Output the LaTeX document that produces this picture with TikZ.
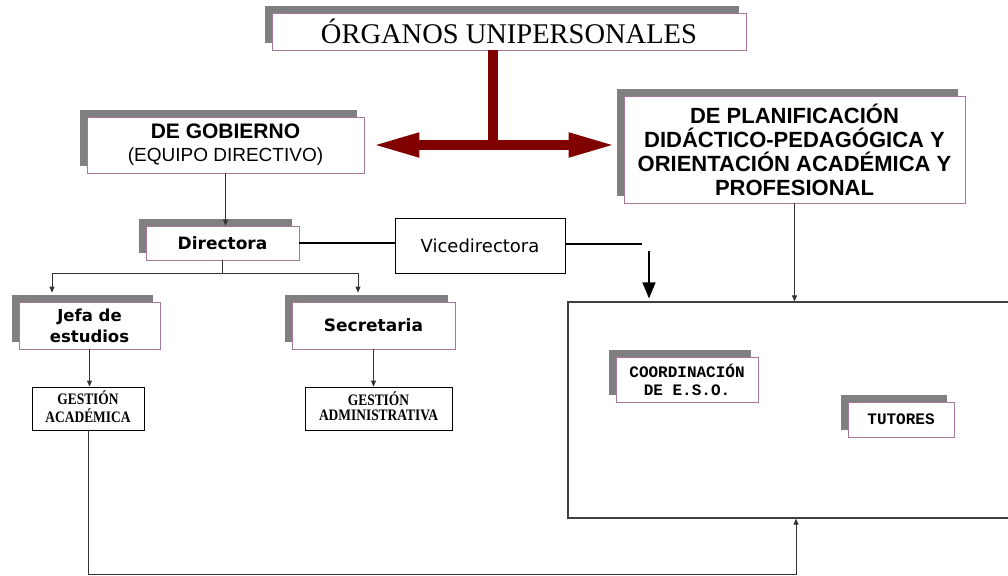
\documentclass[tikz,border=0pt]{standalone}
\usepackage{graphicx}
\usepackage{fontspec}
\setmainfont{Liberation Serif}
\setsansfont{Liberation Sans}
\setmonofont{Liberation Mono}
\newfontfamily\verdana{DejaVu Sans}
\usetikzlibrary{arrows.meta,shadows}
\definecolor{granate}{HTML}{800000}
\definecolor{borde}{HTML}{A8789A}
\definecolor{sombra}{HTML}{808080}
\newcommand{\estrecho}[1]{\scalebox{0.84}[1]{\begin{tabular}{@{}c@{}}#1\end{tabular}}}

\begin{document}
\begin{tikzpicture}[x=1pt,y=-1pt,
    caja/.style={draw=borde, line width=0.8pt, fill=white, align=center, inner sep=0pt,
        general shadow={fill=sombra, shadow xshift=-7pt, shadow yshift=7pt}},
    gestion/.style={draw=black, line width=0.8pt, fill=white, align=center, inner sep=0pt,
        font=\bfseries\fontsize{16}{14.5}\selectfont},
    linea/.style={draw=black!80, line width=0.8pt},
    flecha/.style={linea, -{Triangle[length=6pt,width=5pt]}},
    gruesa/.style={granate, line width=10pt}]
    \useasboundingbox (0,0) rectangle (1008,575);

    % Define the boxes of the chart
    \node[caja, minimum width=474pt, minimum height=37pt, font=\fontsize{28.5}{30}\selectfont] (titulo) at (509,31.5) {ÓRGANOS UNIPERSONALES};
    \node[caja, minimum width=277pt, minimum height=56pt, font=\sffamily\fontsize{19}{23}\selectfont] (gobierno) at (225.5,145) {{\bfseries\fontsize{21}{23}\selectfont DE GOBIERNO}\\(EQUIPO DIRECTIVO)};
    \node[caja, minimum width=341pt, minimum height=107pt, font=\sffamily\bfseries\fontsize{22}{24}\selectfont] (planif) at (794.5,149.5) {DE PLANIFICACIÓN\\DIDÁCTICO-PEDAGÓGICA Y\\ORIENTACIÓN ACADÉMICA Y\\PROFESIONAL};
    \node[caja, minimum width=153pt, minimum height=34pt, font=\verdana\bfseries\fontsize{17}{20}\selectfont] (directora) at (222.5,243) {Directora};
    \node[draw=black, line width=0.8pt, minimum width=170pt, minimum height=55pt, inner sep=0pt, font=\verdana\fontsize{18}{20}\selectfont] (vice) at (480,245.5) {Vicedirectora};
    \node[caja, minimum width=141pt, minimum height=47pt, font=\verdana\bfseries\fontsize{16.5}{21}\selectfont] (jefa) at (89.5,325.5) {Jefa de\\estudios};
    \node[caja, minimum width=163pt, minimum height=47pt, font=\verdana\bfseries\fontsize{17}{21}\selectfont] (secretaria) at (373.5,325.5) {Secretaria};
    \node[gestion, minimum width=112pt, minimum height=43pt] (gacad) at (88,408.5) {\estrecho{GESTIÓN\\ACADÉMICA}};
    \node[gestion, minimum width=147pt, minimum height=43pt] (gadmin) at (378.5,408.5) {\estrecho{GESTIÓN\\ADMINISTRATIVA}};
    \node[draw=black!75, line width=1.2pt, minimum width=456pt, minimum height=216pt, inner sep=0pt] (marco) at (796,410) {};
    \node[caja, minimum width=142pt, minimum height=45pt, font=\ttfamily\bfseries\fontsize{16}{18}\selectfont] (coord) at (687,379.5) {COORDINACIÓN\\DE E.S.O.};
    \node[caja, minimum width=106pt, minimum height=35pt, font=\ttfamily\bfseries\fontsize{16}{18}\selectfont] (tutores) at (901,419.5) {TUTORES};

    % Free ends of the connectors
    \coordinate (ramaizq) at (52,273);
    \coordinate (ramader) at (358,273);
    \coordinate (vfin) at (642,244);
    \coordinate (vbaja) at (649,251);
    \coordinate (pie) at (88,574);

    % Red double arrow
    \draw[gruesa] ([xshift=-16pt]titulo.south) -- ([xshift=-16pt]titulo.south |- gobierno.east);
    \draw[gruesa, {Triangle[length=48pt,width=22pt]}-{Triangle[length=48pt,width=22pt]}, shorten <=7pt, shorten >=7pt] (gobierno.east) -- (gobierno.east -| planif.west);

    % Connectors
    \draw[flecha] (gobierno.south) -- (gobierno.south |- directora.north);
    \draw[flecha] (planif.south) -- (planif.south |- marco.north);
    \draw[linea] (directora.south) -- (directora.south |- ramaizq);
    \draw[linea] (ramaizq) -- (ramader);
    \draw[flecha, shorten >=9pt] (ramaizq) -- (ramaizq |- jefa.north);
    \draw[flecha, shorten >=9pt] (ramader) -- (ramader |- secretaria.north);
    \draw[flecha] (jefa.south) -- (jefa.south |- gacad.north);
    \draw[flecha] (secretaria.south) -- (secretaria.south |- gadmin.north);
    \draw[black, line width=1.2pt] (directora.east) -- (directora.east -| vice.west);
    \draw[black, line width=1.2pt] (vice.east |- vfin) -- (vfin);
    \draw[black, line width=1.2pt, -{Triangle[length=16pt,width=13pt]}, shorten >=3pt] (vbaja) -- (vbaja |- marco.north);
    \draw[flecha] (gacad.south) -- (pie) -| (marco.south);
\end{tikzpicture}
\end{document}
